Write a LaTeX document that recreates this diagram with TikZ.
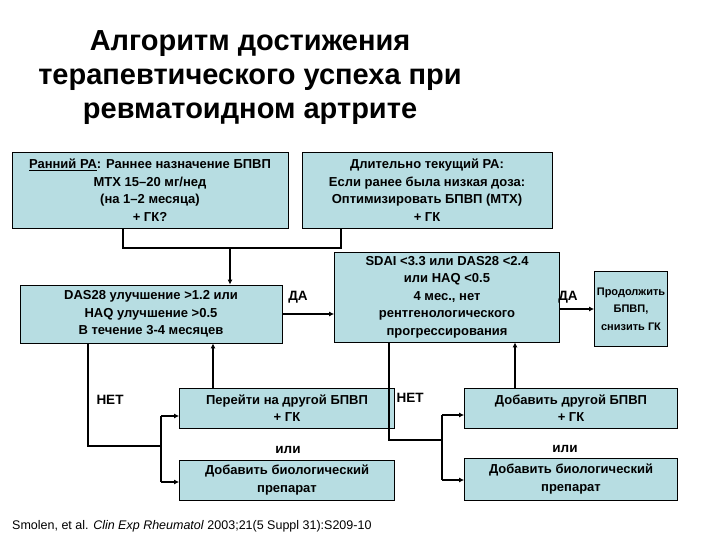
\documentclass[tikz,border=0pt]{standalone}
\usepackage{fontspec}
\setmainfont{Liberation Sans}
\usetikzlibrary{arrows.meta}
\definecolor{boxc}{RGB}{183,221,226}
\begin{document}
\begin{tikzpicture}[x=1pt,y=-1pt,
 box/.style={draw,line width=0.8pt,fill=boxc,font=\bfseries\fontsize{13}{17.5}\selectfont,align=center,inner sep=0pt},
 lbl/.style={font=\bfseries\fontsize{13.5}{15}\selectfont,inner sep=0pt},
 ln/.style={line width=1.5pt},
 ar/.style={line width=1.5pt,-{Latex[length=5pt,width=5pt]}}]
\useasboundingbox[fill=white] (0,0) rectangle (720,540);
\node[font=\bfseries\fontsize{29}{34}\selectfont,align=center] (t) at (250,78) {Алгоритм достижения\\терапевтического успеха при\\ревматоидном артрите};
\node[box,minimum width=276,minimum height=76] (A) at (150,190) {\underline{Ранний РА}: Раннее назначение БПВП\\МТХ 15–20 мг/нед\\(на 1–2 месяца)\\+ ГК?};
\node[box,minimum width=250,minimum height=76] (B) at (427,190) {Длительно текущий РА:\\Если ранее была низкая доза:\\Оптимизировать БПВП (МТХ)\\+ ГК};
\node[box,minimum width=262,minimum height=58] (C) at (151,314) {DAS28 улучшение >1.2 или\\HAQ улучшение >0.5\\В течение 3-4 месяцев};
\node[box,minimum width=225,minimum height=90] (D) at (447,297) {SDAI <3.3 или DAS28 <2.4\\или HAQ <0.5\\4 мес., нет\\рентгенологического\\прогрессирования};
\node[box,minimum width=73,minimum height=75,font=\bfseries\fontsize{11}{17.5}\selectfont] (E) at (631,309) {Продолжить\\БПВП,\\снизить ГК};
\node[box,minimum width=215,minimum height=40] (F) at (287,408) {Перейти на другой БПВП\\+ ГК};
\node[box,minimum width=215,minimum height=40] (G) at (287,480) {Добавить биологический\\препарат};
\node[box,minimum width=213,minimum height=40] (H) at (571,408) {Добавить другой БПВП\\+ ГК};
\node[box,minimum width=213,minimum height=42] (I) at (571,479) {Добавить биологический\\препарат};
\node[lbl] (l1) at (298,297) {ДА};
\node[lbl] (l2) at (568,297) {ДА};
\node[lbl] (l3) at (110,400) {НЕТ};
\node[lbl] (l4) at (410,398) {НЕТ};
\node[lbl] (l5) at (288,450) {или};
\node[lbl] (l6) at (565,449) {или};
\node[font=\fontsize{12.5}{14}\selectfont,anchor=west,inner sep=0pt] (cit) at (12,526) {Smolen, et al. \textit{Clin Exp Rheumatol} 2003;21(5 Suppl 31):S209-10};
\coordinate (j) at (230,248);
\draw[ln] (A.south -| 123,0) |- (j) -| (B.south -| 341,0);
\draw[ar] (j) -- (C.north -| j);
\draw[ar] (C.east) -- (D.west |- C.east);
\draw[ar] (D.east |- E.west) -- (E.west);
\coordinate (s1) at (161,446);
\draw[ln] (C.south -| 88,0) |- (s1);
\draw[ar] (161,416) -- (F.west |- 0,416);
\draw[ar] (161,482) -- (G.west |- 0,482);
\draw[ln] (161,416) -- (161,482);
\draw[ar] (F.north -| 213,0) -- (C.south -| 213,0);
\coordinate (s2) at (442,440);
\draw[ln] (D.south -| 389,0) |- (s2);
\draw[ln] (442,415) -- (442,480);
\draw[ar] (442,415) -- (H.west |- 0,415);
\draw[ar] (442,480) -- (I.west |- 0,480);
\draw[ar] (H.north -| 515,0) -- (D.south -| 515,0);
\end{tikzpicture}
\end{document}
